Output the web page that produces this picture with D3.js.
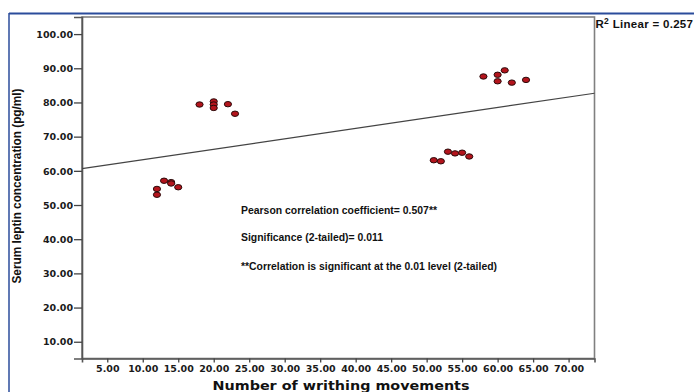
<!DOCTYPE html>
<html><head><meta charset="utf-8">
<script src="https://cdn.jsdelivr.net/npm/d3@7/dist/d3.min.js"></script>
<style>body{margin:0;background:#fff;}svg{display:block;}</style>
</head><body>
<svg id="c" width="694" height="392"></svg>
<script>
// Data
const writhing = [12,12,13,14,14,15, 18,20,20,20,22,23, 51,52,53,54,55,56, 58,60,60,61,62,64];
const leptin   = [54.7,53.0,57.1,56.7,56.3,55.2, 79.4,80.3,79.4,78.4,79.5,76.7, 63.1,62.8,65.6,65.1,65.3,64.2, 87.6,88.1,86.2,89.4,85.8,86.6];
const xTicks = [5,10,15,20,25,30,35,40,45,50,55,60,65,70];
const yTicks = [10,20,30,40,50,60,70,80,90,100];
const rSquared = "0.257";
const notes = ["Pearson correlation coefficient= 0.507**", "Significance (2-tailed)= 0.011", "**Correlation is significant at the 0.01 level (2-tailed)"];

const svg = d3.select("#c");
const L = 82, R = 594.5, T = 17, B = 358.5;
const x = d3.scaleLinear().domain([1.44, 73.65]).range([L, R]);
const y = d3.scaleLinear().domain([5.1, 105]).range([B, T]);

// outer blue frame
svg.append("line").attr("x1",9).attr("x2",694).attr("y1",13.5).attr("y2",13.5).attr("stroke","#2b4c9b").attr("stroke-width",2);
svg.append("line").attr("x1",9).attr("x2",9).attr("y1",13).attr("y2",392).attr("stroke","#2b4c9b").attr("stroke-width",1.5);

// plot frame
svg.append("rect").attr("x",L).attr("y",T).attr("width",R-L).attr("height",B-T).attr("fill","none").attr("stroke","#808080").attr("stroke-width",1.6);

const tickFont = "'DejaVu Sans', Verdana, sans-serif";
const gx = svg.append("g").attr("transform",`translate(0,${B})`)
  .call(d3.axisBottom(x).tickValues(xTicks).tickFormat(d3.format(".2f")).tickSize(4).tickPadding(3));
const gy = svg.append("g").attr("transform",`translate(${L},0)`)
  .call(d3.axisLeft(y).tickValues(yTicks).tickFormat(d3.format(".2f")).tickSize(8).tickPadding(1));
[gx,gy].forEach(g=>{
  g.select(".domain").attr("stroke","#555").attr("stroke-width",1.6);
  g.selectAll(".tick line").attr("stroke","#444").attr("stroke-width",1.3);
  g.selectAll(".tick text").attr("font-family",tickFont).attr("font-weight","bold").attr("font-size","9.5px").attr("fill","#1a1a1a");
});
gy.selectAll(".tick text").attr("dy","0.34em");

// regression line (least squares from the data)
const mx = d3.mean(writhing), my = d3.mean(leptin);
let sxy=0, sxx=0;
writhing.forEach((v,i)=>{sxy+=(v-mx)*(leptin[i]-my); sxx+=(v-mx)*(v-mx);});
const slope = sxy/sxx, icpt = my - slope*mx;
const xd = x.domain();
svg.append("line").attr("x1",x(xd[0])).attr("x2",x(xd[1]))
  .attr("y1",y(icpt+slope*xd[0])).attr("y2",y(icpt+slope*xd[1]))
  .attr("stroke","#444").attr("stroke-width",1.2);

// points
svg.append("g").selectAll("ellipse").data(writhing).join("ellipse")
  .attr("cx",(d)=>x(d)).attr("cy",(d,i)=>y(leptin[i]))
  .attr("rx",3.6).attr("ry",2.7)
  .attr("fill","#b3141c").attr("stroke","#2a0a0a").attr("stroke-width",1);

// annotations
const noteY = [214, 240.5, 270];
const noteW = [196, 142, 256];
notes.forEach((t,i)=>{
  svg.append("text").attr("x",241).attr("y",noteY[i]).text(t)
    .attr("font-family","'Liberation Sans', Arial, sans-serif").attr("font-weight","bold")
    .attr("font-size","10.5px").attr("fill","#111")
    .attr("textLength",noteW[i]).attr("lengthAdjust","spacingAndGlyphs");
});

// R2 label
const r2 = svg.append("text").attr("x",595.5).attr("y",28)
  .attr("font-family","'Liberation Sans', Arial, sans-serif").attr("font-weight","bold").attr("font-size","11.5px").attr("fill","#111")
  .attr("letter-spacing","0.3px");
r2.append("tspan").text("R");
r2.append("tspan").text("2").attr("font-size","8.5px").attr("dy",-4.5);
r2.append("tspan").text(" Linear = " + rSquared).attr("dy",4.5);

// axis titles
svg.append("text").attr("x",341).attr("y",390).attr("text-anchor","middle")
  .attr("font-family",tickFont).attr("font-weight","bold").attr("font-size","12.5px").attr("fill","#111")
  .attr("textLength",257).attr("lengthAdjust","spacingAndGlyphs")
  .text("Number of writhing movements");
svg.append("text").attr("transform","translate(21,186) rotate(-90)").attr("text-anchor","middle")
  .attr("font-family","'Liberation Sans', Arial, sans-serif").attr("font-weight","bold").attr("font-size","12.5px").attr("fill","#111")
  .attr("textLength",195).attr("lengthAdjust","spacingAndGlyphs")
  .text("Serum leptin concentration (pg/ml)");
</script>
</body></html>
